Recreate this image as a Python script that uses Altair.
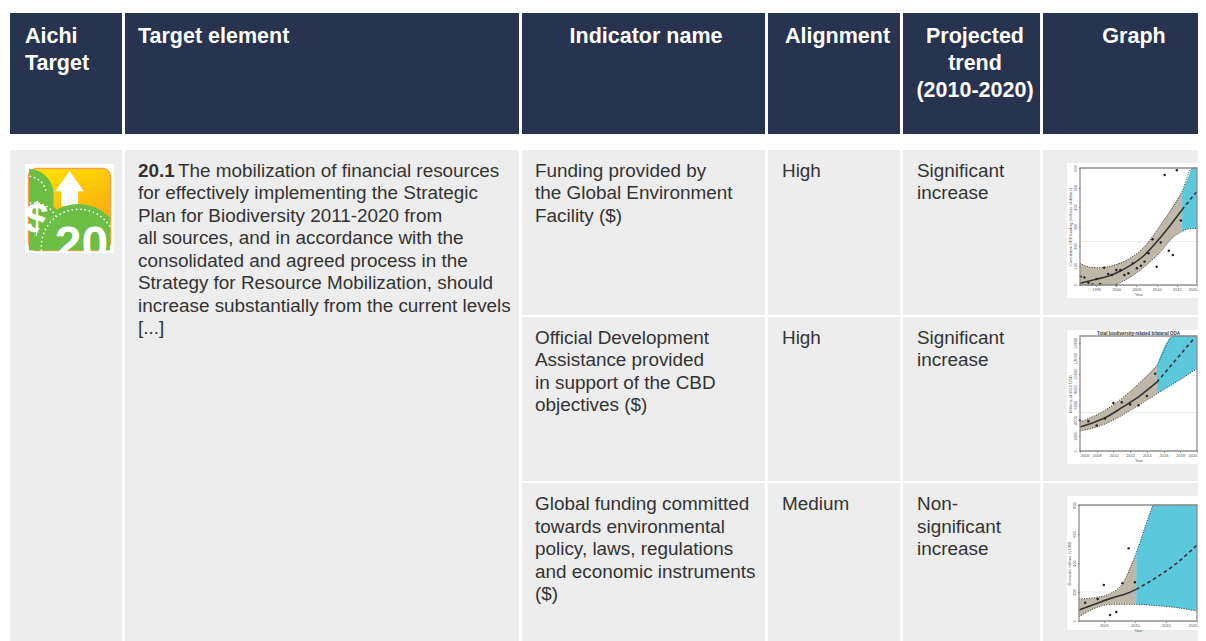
import altair as alt
import pandas as pd

FONT = "Liberation Sans"
NAVY = "#28334f"
CELL = "#ededed"
INK = "#333333"
TAN = "#bfb8a9"
BLUE = "#5cc8dc"
BODY = 18.9
HEAD = 21.5

# ---------- table text ----------
header_aichi = "Aichi\nTarget"
header_element = "Target element"
header_indicator = "Indicator name"
header_alignment = "Alignment"
header_trend = "Projected\ntrend\n(2010-2020)"
header_graph = "Graph"
target_bold = "20.1"
target_first = "The mobilization of financial resources"
target_rest = ("for effectively implementing the Strategic\nPlan for Biodiversity 2011-2020 from\n"
               "all sources, and in accordance with the\nconsolidated and agreed process in the\n"
               "Strategy for Resource Mobilization, should\nincrease substantially from the current levels\n[...]")
indicators = ["Funding provided by\nthe Global Environment\nFacility ($)",
              "Official Development\nAssistance provided\nin support of the CBD\nobjectives ($)",
              "Global funding committed\ntowards environmental\npolicy, laws, regulations\nand economic instruments\n($)"]
alignments = ["High", "High", "Medium"]
trends = ["Significant\nincrease", "Significant\nincrease", "Non-\nsignificant\nincrease"]

# ---------- graph 1 ----------
g1_pts_year = [1991.2, 1992.1, 1993.1, 1994.1, 1995.1, 1996, 1997, 1998, 1998.9, 2000, 2000, 2001, 2002, 2003,
               2004.1, 2005.1, 2006.1, 2007, 2008, 2009, 2010, 2011, 2012, 2013, 2014, 2015, 2016]
g1_pts_val = [43, 39, 12, 3, 31, 5, 89, 57, 51, 77, 0, 77, 51, 60, 111, 86, 99, 120, 163, 235, 94, 218, 564, 176, 154, 588, 331]
g1_fit_year = [1991, 1995, 1999, 2003, 2007, 2011, 2016.3]
g1_fit = [9, 29, 53, 94, 154, 245, 386]
g1_fc_year = [2016.3, 2018, 2020]
g1_fc = [386, 430, 480]
g1_up_year = [1991, 1993, 1995.6, 1999, 2003, 2007, 2011, 2016.3, 2018.8, 2020]
g1_up = [111, 94, 89, 99, 132, 197, 309, 480, 600, 600]
g1_lo_year = [1991, 1999, 2000.6, 2003, 2007, 2011, 2013.8, 2016.3, 2018, 2020]
g1_lo = [0, 0, 9, 34, 94, 171, 240, 274, 288, 291]

# ---------- graph 2 ----------
g2_pts_year = [2006, 2007, 2008, 2009, 2010, 2011, 2012, 2013, 2014, 2015]
g2_pts_val = [3.97, 3.84, 3.3, 4.2, 6.2, 6.3, 6.0, 5.9, 7.1, 10.0]
g2_fit_year = [2006, 2007, 2009, 2011, 2013, 2015.2]
g2_fit = [3.1, 3.45, 4.3, 5.6, 7.0, 8.9]
g2_fc_year = [2015.2, 2017.4, 2019.6]
g2_fc = [8.9, 11.7, 14.5]
g2_up_year = [2006, 2009, 2011, 2013, 2015.2, 2017.2, 2020]
g2_up = [3.75, 5.26, 6.8, 8.7, 11.1, 14.87, 14.87]
g2_lo_year = [2006, 2009, 2011, 2013, 2015.2, 2017.8, 2020]
g2_lo = [2.6, 3.5, 4.6, 5.9, 7.4, 9.1, 10.65]

# ---------- graph 3 ----------
g3_pts_year = [2002, 2004, 2005, 2006, 2007, 2008, 2009, 2010]
g3_pts_val = [126, 152, 248, 41, 62, 260, 501, 267]
g3_fit_year = [2001, 2003.5, 2006.1, 2008.8, 2010.2]
g3_fit = [76, 115, 156, 191, 218]
g3_fc_year = [2010.2, 2013, 2016.7, 2020]
g3_fc = [218, 288, 398, 524]
g3_up_year = [2001, 2003.5, 2006.1, 2008.2, 2010.2, 2011.4, 2012.5, 2013, 2020]
g3_up = [152, 161, 191, 271, 467, 616, 754, 800, 800]
g3_lo_year = [2001, 2003.5, 2006.1, 2008.8, 2010.2, 2014.1, 2016.7, 2020]
g3_lo = [30, 87, 115, 115, 115, 103, 92, 69]

ONE = alt.Data(values=[{"k": 1}])
CURVE = "monotone"


def series(years, values):
    return pd.DataFrame({"year": years, "value": values})


def band(up_y, up, lo_y, lo, start, end):
    ys = sorted({y for y in list(up_y) + list(lo_y) + [start, end] if start <= y <= end})
    a = pd.Series(up, index=up_y).reindex(sorted(set(list(up_y) + ys))).interpolate("index")
    b = pd.Series(lo, index=lo_y).reindex(sorted(set(list(lo_y) + ys))).interpolate("index")
    return pd.DataFrame({"year": ys, "upper": a.loc[ys].values, "lower": b.loc[ys].values})


def text_layer(txt, x, y, size=BODY, color=INK, weight="normal", align="left", lh=22.5):
    return alt.Chart(ONE).mark_text(text=txt, lineBreak="\n", lineHeight=lh, font=FONT, fontSize=size, color=color,
                                    fontWeight=weight, align=align, baseline="top").encode(
        x=alt.value(x), y=alt.value(y))


def cell(w, h, fill, layers):
    return alt.layer(*layers).properties(width=w, height=h, view=alt.ViewConfig(fill=fill, stroke=None))


def graph(w, h, panel, frame, xdom, ydom, xticks, yticks, ylabels, ytitle, title, faint,
          pts, fit, fc, up, lo, split):
    px0, py0, px1, py1 = panel
    fx0, fy0, fx1, fy1 = frame
    xs = alt.Scale(domain=xdom, range=[fx0, fx1], nice=False, zero=False)
    ys = alt.Scale(domain=ydom, range=[fy1, fy0], nice=False, zero=False)
    ax_x = alt.Axis(values=xticks, format="d", domain=False, grid=False, offset=fy1 - h, tickSize=1.5, tickWidth=0.6,
                    tickColor="#666", labelFontSize=4, labelColor="#555", labelPadding=1, labelFont=FONT, zindex=1,
                    labelFlush=True,
                    title="Year", titleFontSize=4, titleFont=FONT, titleColor="#555", titlePadding=1, titleFontWeight="normal")
    expr = "{" + ",".join(f"'{v}':'{l}'" for v, l in zip(yticks, ylabels)) + "}[datum.value]"
    ax_y = alt.Axis(values=yticks, labelExpr=expr, domain=False, grid=False, offset=-fx0, tickSize=1.5, tickWidth=0.6,
                    tickColor="#666", labelFontSize=4, labelColor="#555", labelAngle=270, labelAlign="center",
                    labelBaseline="bottom", labelPadding=1, labelFont=FONT, zindex=1,
                    title=ytitle, titleFontSize=4, titleFont=FONT, titleColor="#555", titlePadding=1, titleFontWeight="normal")
    X = alt.X("year:Q", scale=xs, axis=ax_x)
    Y = alt.Y("value:Q", scale=ys, axis=ax_y)
    YU = alt.Y("upper:Q", scale=ys, axis=ax_y)
    hist = band(up[0], up[1], lo[0], lo[1], xdom[0], split)
    fore = band(up[0], up[1], lo[0], lo[1], split, xdom[1])
    layers = [
        alt.Chart(ONE).mark_rect(fill="white").encode(x=alt.value(px0), x2=alt.value(px1), y=alt.value(py0), y2=alt.value(py1)),
        alt.Chart(pd.DataFrame({"value": [faint]})).mark_rule(color="#e6e6e6", strokeWidth=0.8).encode(x=alt.value(fx0), x2=alt.value(fx1), y=Y),
        alt.Chart(hist).mark_area(color=TAN, clip=True, interpolate=CURVE).encode(X, YU, y2="lower:Q"),
        alt.Chart(fore).mark_area(color=BLUE, clip=True, interpolate=CURVE).encode(X, YU, y2="lower:Q"),
        alt.Chart(series(*up)).mark_line(color=INK, strokeWidth=1, strokeDash=[1, 1.5], clip=True, interpolate=CURVE).encode(X, Y),
        alt.Chart(series(*lo)).mark_line(color=INK, strokeWidth=1, strokeDash=[1, 1.5], clip=True, interpolate=CURVE).encode(X, Y),
        alt.Chart(series(*fit)).mark_line(color=INK, strokeWidth=1.6, clip=True, interpolate=CURVE).encode(X, Y),
        alt.Chart(series(*fc)).mark_line(color=INK, strokeWidth=1.6, strokeDash=[3.5, 3], clip=True, interpolate=CURVE).encode(X, Y),
        alt.Chart(series(*pts)).mark_point(filled=True, color="#222", size=6, opacity=1).encode(X, Y),
        alt.Chart(ONE).mark_rect(fill=None, stroke="#8f8f8f", strokeWidth=1.3).encode(x=alt.value(fx0), x2=alt.value(fx1), y=alt.value(fy0), y2=alt.value(fy1)),
    ]
    if title:
        layers.append(text_layer(title, (fx0 + fx1) / 2, fy0 - 5, size=4.5, color="#333", weight="bold", align="center"))
    return alt.layer(*layers).properties(width=w, height=h, view=alt.ViewConfig(fill=CELL, stroke=None))


def icon(cx, cy, box):
    def s(path, **kw):
        args = dict(shape=path, size=box * box, filled=True, opacity=1, strokeWidth=0)
        args.update(kw)
        return alt.Chart(ONE).mark_point(**args).encode(x=alt.value(cx), y=alt.value(cy))
    x0, y0 = cx - box / 2, cy - box / 2
    grad = alt.LinearGradient(gradient="linear", x1=0.4, y1=0, x2=0.9, y2=1,
                              stops=[alt.GradientStop(offset=0, color="#ffdd00"), alt.GradientStop(offset=1, color="#f7941e")])
    green = "#6cbe45"
    dots = dict(filled=False, color="white", strokeWidth=1.7, strokeDash=[0.1, 4.2], strokeCap="round")
    return [
        alt.Chart(ONE).mark_rect(fill="white").encode(x=alt.value(x0), x2=alt.value(x0 + box), y=alt.value(y0), y2=alt.value(y0 + box)),
        alt.Chart(ONE).mark_rect(color=grad, stroke="#f3a24a", strokeWidth=1.5, cornerRadius=8).encode(
            x=alt.value(x0 + 3.5), x2=alt.value(x0 + box - 3.5), y=alt.value(y0 + 4.5), y2=alt.value(y0 + box - 2.5)),
        s("M0 -.84 L.32 -.39 L.19 -.39 L.19 -.05 L-.19 -.05 L-.19 -.39 L-.32 -.39 Z", color="white"),
        s("M-.91 -.89 A.56 .56 0 0 1 -.36 -.33 L-.36 .1 L-.91 .1 Z", color=green),
        s("M-.91 -.22 A.65 .65 0 0 1 -.16 .42 L-.16 .94 L-.91 .94 Z", color=green),
        alt.Chart(ONE).mark_text(text="$", font=FONT, fontSize=42, fontWeight="bold", color="white", align="center", baseline="alphabetic").encode(
            x=alt.value(x0 + 12), y=alt.value(y0 + 69)),
        s("M-.77 .94 A.97 .97 0 0 1 .91 .21 L.91 .94 Z", color=green),
        s("M-.63 .94 A.84 .84 0 0 1 .91 .4", **dots),
        s("M-.88 -.12 A.54 .54 0 0 1 -.3 .2", **dots),
        s("M-.88 -.72 A.42 .42 0 0 1 -.52 -.33", **dots),
        alt.Chart(ONE).mark_text(text="20", font=FONT, fontSize=48, fontWeight="bold", color="white", align="center", baseline="alphabetic").encode(
            x=alt.value(cx + 12), y=alt.value(y0 + 96)),
        alt.Chart(ONE).mark_rect(fill=CELL).encode(x=alt.value(x0), x2=alt.value(x0 + box), y=alt.value(y0 + box), y2=alt.value(y0 + box + 10)),
    ]


W = [112, 394, 243, 132, 137, 155]
H = [121, 165, 164, 158]
TOPS = [11.5, 11.5, 12]
HT = 13

head = alt.hconcat(
    cell(W[0], H[0], NAVY, [text_layer(header_aichi, 15, HT, HEAD, "white", "bold", lh=27)]),
    cell(W[1], H[0], NAVY, [text_layer(header_element, 13, HT, HEAD, "white", "bold")]),
    cell(W[2], H[0], NAVY, [text_layer(header_indicator, 124, HT, HEAD, "white", "bold", "center")]),
    cell(W[3], H[0], NAVY, [text_layer(header_alignment, 69.5, HT, HEAD, "white", "bold", "center")]),
    cell(W[4], H[0], NAVY, [text_layer(header_trend, 72, HT, HEAD, "white", "bold", "center", lh=27)]),
    cell(W[5], H[0], NAVY, [text_layer(header_graph, 91, HT, HEAD, "white", "bold", "center")]),
    spacing=3,
)

left = cell(W[0], sum(H[1:]) + 4, CELL, icon(59.5, 58.5, 89))
target = cell(W[1], sum(H[1:]) + 4, CELL, [
    text_layer(target_bold, 13, TOPS[0], weight="bold"),
    text_layer(target_first, 53, TOPS[0]),
    text_layer(target_rest, 13, TOPS[0] + 22.5),
])

PX1 = 155
g1 = graph(W[5], H[1], (24, 13, PX1, 148), (37, 18, 154, 135), [1991, 2020], [0, 600],
           [1995, 2000, 2005, 2010, 2015, 2020], [0, 100, 200, 300, 400, 500, 600], ["0", "100", "200", "300", "400", "500", "600"],
           "Cumulative GEF funding (millions of dollars)", None, 223,
           (g1_pts_year, g1_pts_val), (g1_fit_year, g1_fit), (g1_fc_year, g1_fc), (g1_up_year, g1_up), (g1_lo_year, g1_lo), 2016.3)
g2 = graph(W[5], H[2], (24, 13, PX1, 147), (37, 19, 154, 134), [2006, 2020], [0, 14.87],
           [2006, 2008, 2010, 2012, 2014, 2016, 2018, 2020], [0, 2, 4, 6, 8, 10, 12, 14], ["0", "2000", "4000", "6000", "8000", "10000", "12000", "14000"],
           "Millions of 2010 USD", "Total biodiversity-related bilateral ODA", 4.96,
           (g2_pts_year, g2_pts_val), (g2_fit_year, g2_fit), (g2_fc_year, g2_fc), (g2_up_year, g2_up), (g2_lo_year, g2_lo), 2015.2)
g3 = graph(W[5], H[3], (24, 13, PX1, 147), (36, 22, 154, 138), [2001, 2020], [0, 800],
           [2005, 2010, 2015, 2020], [0, 200, 400, 600, 800], ["0", "200", "400", "600", "800"],
           "Domestic inflows in USD", None, 200,
           (g3_pts_year, g3_pts_val), (g3_fit_year, g3_fit), (g3_fc_year, g3_fc), (g3_up_year, g3_up), (g3_lo_year, g3_lo), 2010.2)

graphs = [g1, g2, g3]
rows = []
for i in range(3):
    rows.append(alt.hconcat(
        cell(W[2], H[i + 1], CELL, [text_layer(indicators[i], 13, TOPS[i])]),
        cell(W[3], H[i + 1], CELL, [text_layer(alignments[i], 14, TOPS[i])]),
        cell(W[4], H[i + 1], CELL, [text_layer(trends[i], 14, TOPS[i])]),
        graphs[i],
        spacing=3,
    ))

body = alt.hconcat(left, target, alt.vconcat(*rows, spacing=2), spacing=3)
chart = alt.vconcat(head, body, spacing=16).properties(
    padding={"left": 2, "top": 5, "right": 0, "bottom": 0},
    background="white",
).configure_view(stroke=None).configure_concat(spacing=0)

chart.save("out.html", embed_options={"renderer": "svg", "actions": False})
